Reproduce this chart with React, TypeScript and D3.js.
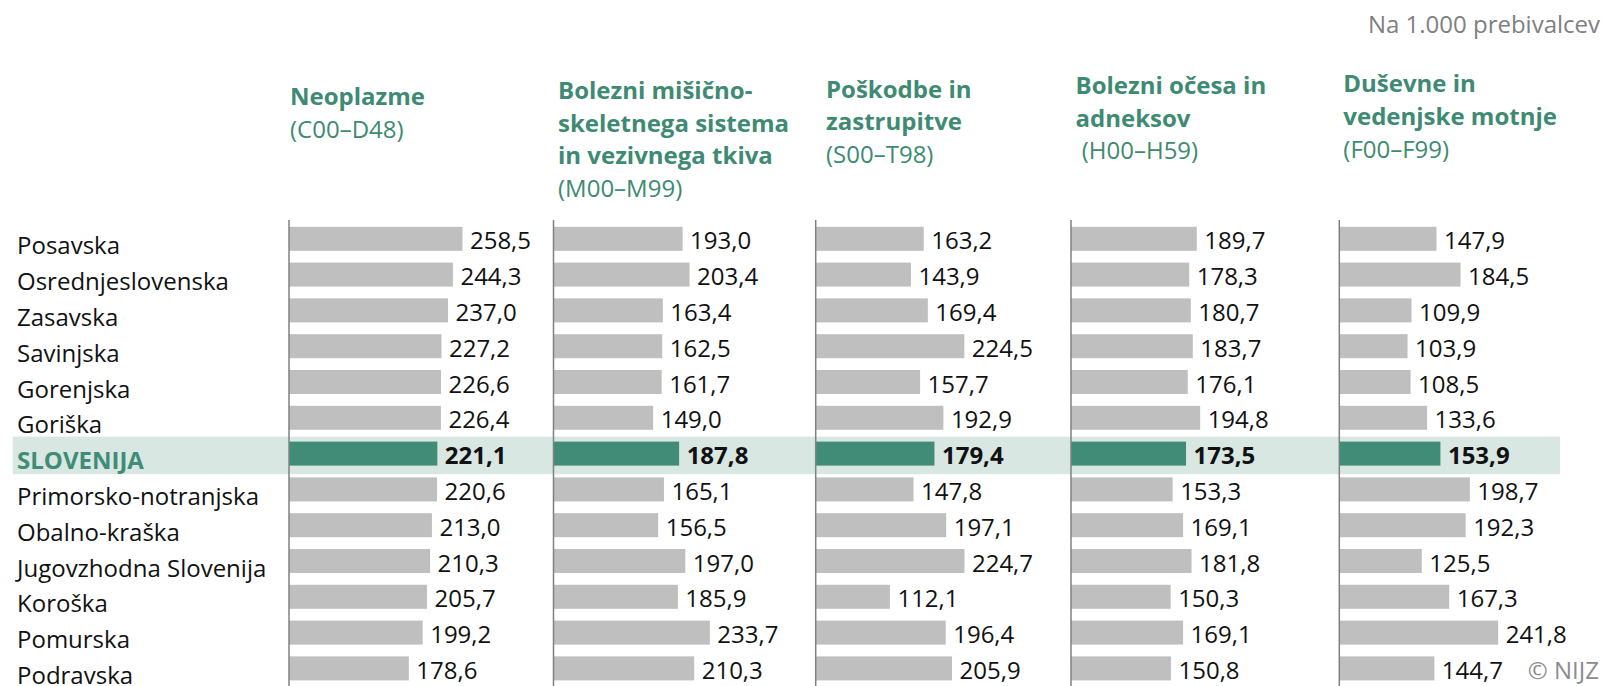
import React from "react";
import * as d3 from "d3";

const regions = [
  "Posavska",
  "Osrednjeslovenska",
  "Zasavska",
  "Savinjska",
  "Gorenjska",
  "Goriška",
  "SLOVENIJA",
  "Primorsko-notranjska",
  "Obalno-kraška",
  "Jugovzhodna Slovenija",
  "Koroška",
  "Pomurska",
  "Podravska",
];

const neoplazme = [258.5, 244.3, 237.0, 227.2, 226.6, 226.4, 221.1, 220.6, 213.0, 210.3, 205.7, 199.2, 178.6];
const misicnoSkeletne = [193.0, 203.4, 163.4, 162.5, 161.7, 149.0, 187.8, 165.1, 156.5, 197.0, 185.9, 233.7, 210.3];
const poskodbe = [163.2, 143.9, 169.4, 224.5, 157.7, 192.9, 179.4, 147.8, 197.1, 224.7, 112.1, 196.4, 205.9];
const ocesa = [189.7, 178.3, 180.7, 183.7, 176.1, 194.8, 173.5, 153.3, 169.1, 181.8, 150.3, 169.1, 150.8];
const dusevne = [147.9, 184.5, 109.9, 103.9, 108.5, 133.6, 153.9, 198.7, 192.3, 125.5, 167.3, 241.8, 144.7];

const titleLines = [
  ["Neoplazme"],
  ["Bolezni mišično-", "skeletnega sistema", "in vezivnega tkiva"],
  ["Poškodbe in", "zastrupitve"],
  ["Bolezni očesa in", "adneksov"],
  ["Duševne in", "vedenjske motnje"],
];
const codes = ["(C00–D48)", "(M00–M99)", "(S00–T98)", " (H00–H59)", "(F00–F99)"];
const seriesValues = [neoplazme, misicnoSkeletne, poskodbe, ocesa, dusevne];

const unitNote = "Na 1.000 prebivalcev";
const credit = "© NIJZ";
const highlight = "SLOVENIJA";

// layout
const W = 1602;
const H = 686;
const FONT = "'Open Sans', 'Noto Sans', sans-serif";
const FS = 24;
const panelX = [289, 553.5, 815.7, 1071, 1339.3];
const panelScale = [0.671, 0.669, 0.662, 0.663, 0.657];
const titleBase = [105, 99, 97.5, 94, 92.3];
const titleX = [290, 558, 826, 1075.5, 1343.3];
const lineGap = 32.7;
const GREEN = "#418c76";
const TITLE_GREEN = "#3e8a72";
const GRAY_BAR = "#bfbfbf";
const BAND = "#d9e7e3";

export default function App() {
  const y = d3
    .scalePoint<string>()
    .domain(regions)
    .range([238.8, 238.8 + 12 * 35.8]);
  const barH = 24;
  const hi = regions.indexOf(highlight);
  const yHi = y(highlight) as number;

  return (
    <svg
      width={W}
      height={H}
      style={{ position: "absolute", left: 0, top: 0, background: "#fff" }}
      fontFamily={FONT}
    >
      <rect x={0} y={0} width={W} height={H} fill="#fff" />
      {/* highlight band */}
      <rect x={12.7} y={yHi - 17} width={1560 - 12.7} height={37.6} fill={BAND} />

      {/* unit note */}
      <text x={1600} y={33} textAnchor="end" fontSize={FS} fill="#808080">
        {unitNote}
      </text>

      {/* region labels */}
      {regions.map((r, i) => (
        <text
          key={r}
          x={17}
          y={(y(r) as number) + 15.5}
          fontSize={FS}
          fontWeight={i === hi ? 700 : 400}
          fill={i === hi ? GREEN : "#111"}
        >
          {r}
        </text>
      ))}

      {seriesValues.map((vals, p) => {
        const x = d3
          .scaleLinear()
          .domain([0, 250])
          .range([panelX[p], panelX[p] + 250 * panelScale[p]]);
        const lines = titleLines[p];
        return (
          <g key={p}>
            {lines.map((t, k) => (
              <text
                key={k}
                x={titleX[p]}
                y={titleBase[p] + k * lineGap}
                fontSize={FS}
                fontWeight={700}
                fill={TITLE_GREEN}
              >
                {t}
              </text>
            ))}
            <text
              x={titleX[p]}
              y={titleBase[p] + lines.length * lineGap}
              fontSize={FS}
              fill={TITLE_GREEN}
              style={{ whiteSpace: "pre" }}
            >
              {codes[p]}
            </text>
            {vals.map((v, i) => {
              const cy = y(regions[i]) as number;
              return (
                <g key={i}>
                  <rect
                    x={x(0)}
                    y={cy - barH / 2}
                    width={x(v) - x(0)}
                    height={barH}
                    fill={i === hi ? GREEN : GRAY_BAR}
                  />
                  <text
                    x={x(v) + 7.5}
                    y={cy + 10.5}
                    fontSize={FS}
                    fontWeight={i === hi ? 700 : 400}
                    fill="#111"
                  >
                    {d3.format(".1f")(v).replace(".", ",")}
                  </text>
                </g>
              );
            })}
            <line
              x1={panelX[p]}
              x2={panelX[p]}
              y1={220}
              y2={H + 5}
              stroke="#808080"
              strokeWidth={1.5}
            />
          </g>
        );
      })}

      <text x={1599} y={679} textAnchor="end" fontSize={FS} fill="#8c8c8c">
        {credit}
      </text>
    </svg>
  );
}
